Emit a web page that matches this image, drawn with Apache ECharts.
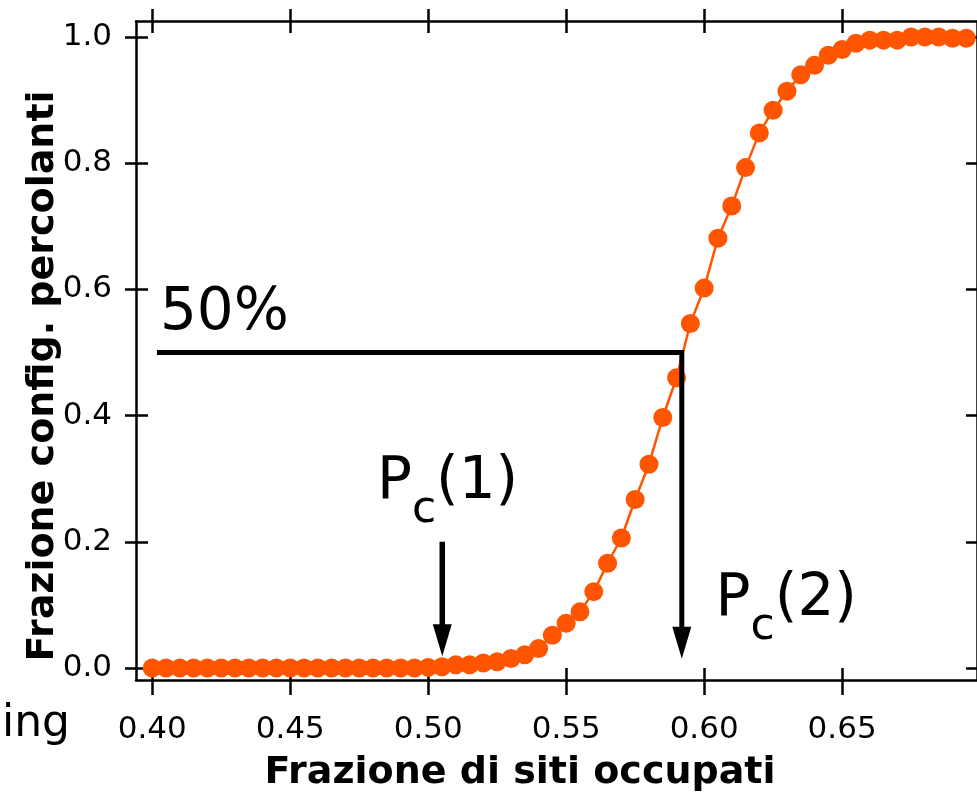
<!DOCTYPE html>
<html><head><meta charset="utf-8">
<script src="https://cdn.jsdelivr.net/npm/echarts@6/dist/echarts.min.js"></script>
<style>html,body{margin:0;padding:0;background:#fff}#c{width:977px;height:799px}</style>
</head><body><div id="c"></div>
<script>
// ---- data ----
const xValues = [0.400,0.405,0.410,0.415,0.420,0.425,0.430,0.435,0.440,0.445,
                 0.450,0.455,0.460,0.465,0.470,0.475,0.480,0.485,0.490,0.495,
                 0.500,0.505,0.510,0.515,0.520,0.525,0.530,0.535,0.540,0.545,
                 0.550,0.555,0.560,0.565,0.570,0.575,0.580,0.585,0.590,0.595,
                 0.600,0.605,0.610,0.615,0.620,0.625,0.630,0.635,0.640,0.645,
                 0.650,0.655,0.660,0.665,0.670,0.675,0.680,0.685,0.690,0.695];
const yValues = [0,0,0,0,0,0,0,0,0,0,
                 0,0,0,0,0,0,0,0,0,0,
                 0.001,0.002,0.005,0.005,0.008,0.010,0.015,0.021,0.031,0.052,
                 0.071,0.089,0.121,0.166,0.206,0.267,0.323,0.397,0.460,0.546,
                 0.602,0.681,0.732,0.793,0.848,0.884,0.914,0.940,0.955,0.971,
                 0.980,0.990,0.995,0.995,0.995,1.000,1.000,1.000,0.998,0.998];
const xTicks = [0.40,0.45,0.50,0.55,0.60,0.65];
const yTicks = [0.0,0.2,0.4,0.6,0.8,1.0];
const xRange = [0.39411, 0.69888];
const yRange = [-0.019, 1.0242];
// annotations (data units)
const line50 = [[0.4017,0.5],[0.5919,0.5]];
const arrow1 = [[0.5051,0.200],[0.5051,0.044]];   // shaft top -> arrowhead centre
const arrow2 = [[0.5919,0.5],[0.5919,0.040]];
const text50 = [0.40278,0.5618];
const textPc1 = [0.48142,0.2940];
const textPc2 = [0.60416,0.1086];

const FONT = 'DejaVu Sans';
const ORANGE = '#FF5500';
const chart = echarts.init(document.getElementById('c'), null, {renderer:'canvas'});

function xAx(pos, inside, len, showLine, showLabel){
  return {type:'value', position:pos, min:xRange[0], max:xRange[1],
    axisLine:{show:showLine, onZero:false, lineStyle:{color:'#000', width:2.5}},
    axisTick:{show:true, inside:inside, length:len, customValues:xTicks, lineStyle:{color:'#000', width:2.5}},
    axisLabel:{show:showLabel, customValues:xTicks, formatter:v=>Number(v).toFixed(2),
      fontFamily:FONT, fontSize:31, color:'#000', margin:34},
    splitLine:{show:false}};
}
function yAx(pos, inside, len, showLine, showLabel){
  return {type:'value', position:pos, min:yRange[0], max:yRange[1],
    axisLine:{show:showLine, onZero:false, lineStyle:{color:'#000', width:2.5}},
    axisTick:{show:true, inside:inside, length:len, customValues:yTicks, lineStyle:{color:'#000', width:2.5}},
    axisLabel:{show:showLabel, customValues:yTicks, formatter:v=>Number(v).toFixed(1),
      fontFamily:FONT, fontSize:31, color:'#000', margin:24, padding:[5,0,0,0]},
    splitLine:{show:false}};
}

chart.setOption({
  animation:false,
  grid:{left:136, right:-2, top:21.7, bottom:119, containLabel:false},
  xAxis:[xAx('bottom',false,15,true,true), xAx('bottom',true,12,false,false),
         xAx('top',false,12.7,true,false), xAx('top',true,11.3,false,false)],
  yAxis:[yAx('left',false,11,true,true), yAx('left',true,12,false,false),
         yAx('right',true,11,true,false)],
  series:[
    {type:'line', xAxisIndex:0, yAxisIndex:0, data:xValues.map((x,i)=>[x,yValues[i]]),
     symbol:'circle', symbolSize:19, showAllSymbol:true,
     itemStyle:{color:ORANGE}, lineStyle:{color:ORANGE, width:2.5}, z:2},
    {type:'line', xAxisIndex:0, yAxisIndex:0, data:line50.concat([arrow2[1]]),
     symbol:'none', lineStyle:{color:'#000', width:5, join:'miter', cap:'butt'}, z:5,
     markPoint:{symbol:'triangle', symbolSize:[19,32], symbolRotate:180, silent:true,
       itemStyle:{color:'#000'}, label:{show:false},
       data:[{coord:arrow2[1]},{coord:arrow1[1]}]}},
    {type:'line', xAxisIndex:0, yAxisIndex:0, data:arrow1,
     symbol:'none', lineStyle:{color:'#000', width:5.5, cap:'butt'}, z:5}
  ]
});

const p50 = chart.convertToPixel({xAxisIndex:0,yAxisIndex:0}, text50);
const p1 = chart.convertToPixel({xAxisIndex:0,yAxisIndex:0}, textPc1);
const p2 = chart.convertToPixel({xAxisIndex:0,yAxisIndex:0}, textPc2);
const rich = {
  p:{fontSize:58, fontFamily:FONT, lineHeight:100, fill:'#000'},
  s:{fontSize:44, fontFamily:FONT, lineHeight:51, verticalAlign:'bottom', fill:'#000'}
};
chart.setOption({graphic:[
  {type:'text', x:p50[0], y:p50[1], z:10, style:{text:'50%', font:'58px "DejaVu Sans"', align:'left', verticalAlign:'middle', fill:'#000'}},
  {type:'text', x:p1[0], y:p1[1], z:10, style:{text:'{p|P}{s|c}{p|(1)}', rich:rich, align:'left', verticalAlign:'middle'}},
  {type:'text', x:p2[0], y:p2[1], z:10, style:{text:'{p|P}{s|c}{p|(2)}', rich:rich, align:'left', verticalAlign:'middle'}},
  {type:'text', x:520, y:773, z:10, style:{text:'Frazione di siti occupati', font:'bold 38px "DejaVu Sans"', align:'center', verticalAlign:'middle', fill:'#000'}},
  {type:'text', x:43, y:376, rotation:Math.PI/2, z:10, style:{text:'Frazione config. percolanti', font:'bold 38px "DejaVu Sans"', align:'center', verticalAlign:'middle', fill:'#000'}},
  {type:'text', x:70, y:725, z:10, style:{text:'ing', font:'44px "DejaVu Sans"', align:'right', verticalAlign:'middle', fill:'#000'}}
]});
</script></body></html>
